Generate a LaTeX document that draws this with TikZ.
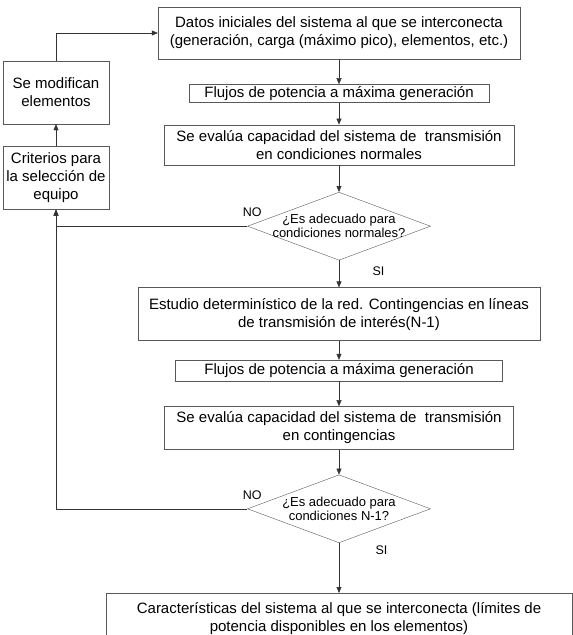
\documentclass[tikz,border=0pt]{standalone}
\usepackage{fontspec}
\setmainfont{Liberation Sans}
\usetikzlibrary{arrows.meta}
\usetikzlibrary{positioning}
\usetikzlibrary{shapes.geometric}

\begin{document}
\begin{tikzpicture}[
				node distance=25pt,
				arrow/.style={draw=black!80, -{Triangle[length=6pt, width=5pt]}},
				block/.style={draw=black!65, align=center, inner xsep=2pt, inner ysep=1pt, font=\fontsize{15}{18}\selectfont},
				decision/.style={diamond, draw=black!65, inner sep=0pt, minimum width=183pt, minimum height=68pt},
				question/.style={align=center, font=\fontsize{13}{14}\selectfont},
				answer/.style={font=\fontsize{12.5}{14}\selectfont},
			]
				\useasboundingbox (0pt,0pt) rectangle (573pt,-635pt);

				\node[block, minimum width=362pt, minimum height=52pt] (datos) at (339pt,-33pt) {Datos iniciales del sistema al que se interconecta\\(generación, carga (máximo pico), elementos, etc.)};
				\node[block, minimum width=300pt, minimum height=18pt, below=25pt of datos] (flujosA) {Flujos de potencia a máxima generación};
				\node[block, minimum width=350pt, minimum height=40pt, below=22pt of flujosA] (evaluaA) {Se evalúa capacidad del sistema de \ transmisión\\en condiciones normales};
				\node[decision, below=27pt of evaluaA, label={[question]center:{¿Es adecuado para\\condiciones normales?}}] (normales) {};
				\node[block, minimum width=402pt, minimum height=53pt, below=27pt of normales] (estudio) {Estudio determinístico de la red. Contingencias en líneas\\de transmisión de interés(N-1)};
				\node[block, minimum width=327pt, minimum height=21pt, below=19pt of estudio] (flujosB) {Flujos de potencia a máxima generación};
				\node[block, minimum width=349pt, minimum height=43pt, below=of flujosB] (evaluaB) {Se evalúa capacidad del sistema de \ transmisión\\en contingencias};
				\node[decision, below=of evaluaB, label={[question]center:{¿Es adecuado para\\condiciones N-1?}}] (contingencia) {};
				\node[block, minimum width=466pt, minimum height=51pt, below=50pt of contingencia] (caracteristicas) {Características del sistema al que se interconecta (límites de\\potencia disponibles en los elementos)};

				\node[block, minimum width=106pt, minimum height=63pt] (modifican) at (56pt,-92.5pt) {Se modifican\\elementos};
				\node[block, minimum width=106pt, minimum height=63pt, below=22pt of modifican] (criterios) {Criterios para\\la selección de\\equipo};

				\draw[arrow] (datos) -- (flujosA);
				\draw[arrow] (flujosA) -- (evaluaA);
				\draw[arrow] (evaluaA) -- (normales);
				\draw[arrow] (normales) -- node[answer, pos=0.4, right=30pt] {SI} (estudio);
				\draw[arrow] (estudio) -- (flujosB);
				\draw[arrow] (flujosB) -- (evaluaB);
				\draw[arrow] (evaluaB) -- (contingencia);
				\draw[arrow] (contingencia) -- node[answer, pos=0.15, right=33pt] {SI} (caracteristicas);

				\draw[arrow] (normales.west) -| node[answer, pos=0, anchor=south, xshift=5pt, yshift=6pt] {NO} (criterios.south);
				\draw[arrow] (contingencia.west) -| node[answer, pos=0, anchor=south, xshift=5pt, yshift=6pt] {NO} (criterios.south);
				\draw[arrow] (criterios) -- (modifican);
				\draw[arrow] (modifican.north) |- (datos.west);
			\end{tikzpicture}
\end{document}
